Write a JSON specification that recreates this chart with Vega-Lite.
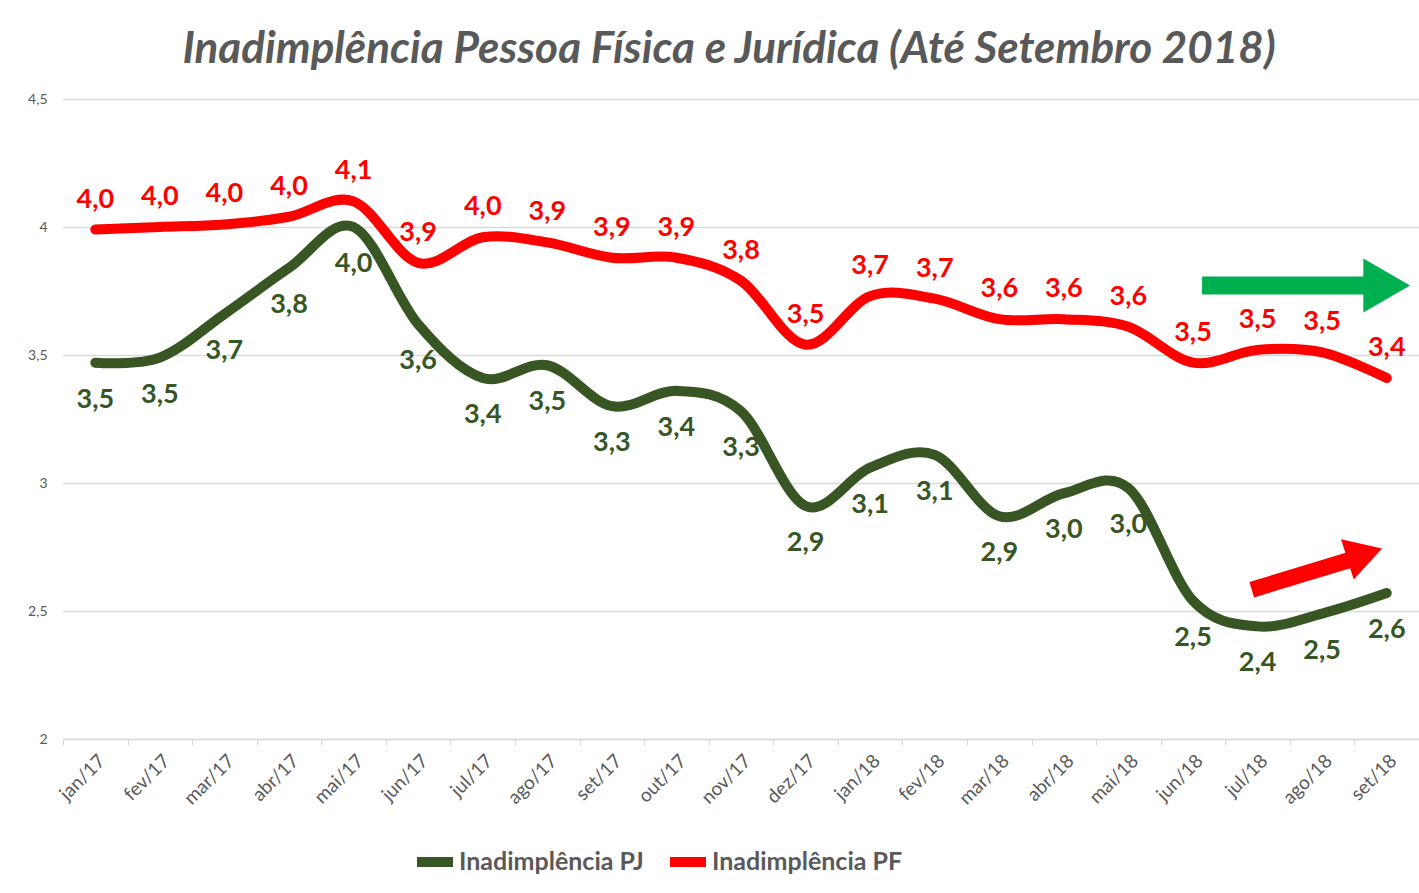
{
  "$schema": "https://vega.github.io/schema/vega-lite/v6.json",
  "autosize": {"type": "none"},
  "padding": {"left": 63, "top": 99, "right": 0, "bottom": 154},
  "width": 1356,
  "height": 640,
  "background": "white",
  "title": {
    "text": "Inadimplência Pessoa Física e Jurídica (Até Setembro 2018)",
    "font": "Lato",
    "fontSize": 44,
    "fontStyle": "italic",
    "fontWeight": "bold",
    "color": "#595959",
    "anchor": "middle",
    "dx": -12,
    "offset": 20
  },
  "datasets": {
    "series": [
      {"mes": "jan/17", "serie": "Inadimplência PJ", "valor": 3.47},
      {"mes": "fev/17", "serie": "Inadimplência PJ", "valor": 3.49},
      {"mes": "mar/17", "serie": "Inadimplência PJ", "valor": 3.66},
      {"mes": "abr/17", "serie": "Inadimplência PJ", "valor": 3.84},
      {"mes": "mai/17", "serie": "Inadimplência PJ", "valor": 4.0},
      {"mes": "jun/17", "serie": "Inadimplência PJ", "valor": 3.62},
      {"mes": "jul/17", "serie": "Inadimplência PJ", "valor": 3.41},
      {"mes": "ago/17", "serie": "Inadimplência PJ", "valor": 3.46},
      {"mes": "set/17", "serie": "Inadimplência PJ", "valor": 3.3},
      {"mes": "out/17", "serie": "Inadimplência PJ", "valor": 3.36},
      {"mes": "nov/17", "serie": "Inadimplência PJ", "valor": 3.28},
      {"mes": "dez/17", "serie": "Inadimplência PJ", "valor": 2.91},
      {"mes": "jan/18", "serie": "Inadimplência PJ", "valor": 3.06},
      {"mes": "fev/18", "serie": "Inadimplência PJ", "valor": 3.11},
      {"mes": "mar/18", "serie": "Inadimplência PJ", "valor": 2.87},
      {"mes": "abr/18", "serie": "Inadimplência PJ", "valor": 2.96},
      {"mes": "mai/18", "serie": "Inadimplência PJ", "valor": 2.98},
      {"mes": "jun/18", "serie": "Inadimplência PJ", "valor": 2.54},
      {"mes": "jul/18", "serie": "Inadimplência PJ", "valor": 2.44},
      {"mes": "ago/18", "serie": "Inadimplência PJ", "valor": 2.49},
      {"mes": "set/18", "serie": "Inadimplência PJ", "valor": 2.57},
      {"mes": "jan/17", "serie": "Inadimplência PF", "valor": 3.99},
      {"mes": "fev/17", "serie": "Inadimplência PF", "valor": 4.0},
      {"mes": "mar/17", "serie": "Inadimplência PF", "valor": 4.01},
      {"mes": "abr/17", "serie": "Inadimplência PF", "valor": 4.04},
      {"mes": "mai/17", "serie": "Inadimplência PF", "valor": 4.1},
      {"mes": "jun/17", "serie": "Inadimplência PF", "valor": 3.86},
      {"mes": "jul/17", "serie": "Inadimplência PF", "valor": 3.96},
      {"mes": "ago/17", "serie": "Inadimplência PF", "valor": 3.94},
      {"mes": "set/17", "serie": "Inadimplência PF", "valor": 3.88},
      {"mes": "out/17", "serie": "Inadimplência PF", "valor": 3.88},
      {"mes": "nov/17", "serie": "Inadimplência PF", "valor": 3.79},
      {"mes": "dez/17", "serie": "Inadimplência PF", "valor": 3.54},
      {"mes": "jan/18", "serie": "Inadimplência PF", "valor": 3.73},
      {"mes": "fev/18", "serie": "Inadimplência PF", "valor": 3.72},
      {"mes": "mar/18", "serie": "Inadimplência PF", "valor": 3.64},
      {"mes": "abr/18", "serie": "Inadimplência PF", "valor": 3.64},
      {"mes": "mai/18", "serie": "Inadimplência PF", "valor": 3.61},
      {"mes": "jun/18", "serie": "Inadimplência PF", "valor": 3.47},
      {"mes": "jul/18", "serie": "Inadimplência PF", "valor": 3.52},
      {"mes": "ago/18", "serie": "Inadimplência PF", "valor": 3.51},
      {"mes": "set/18", "serie": "Inadimplência PF", "valor": 3.41}
    ],
    "arrowShafts": [
      {"seta": "verde", "x": 17.64, "y": 3.771, "x2": 20.32, "y2": 3.771},
      {"seta": "vermelha", "x": 18.41, "y": 2.583, "x2": 20.09, "y2": 2.712}
    ],
    "arrowHeads": [
      {"seta": "verde", "x": 20.5, "y": 3.771},
      {"seta": "vermelha", "x": 20.16, "y": 2.723}
    ]
  },
  "layer": [
    {
      "data": {"name": "series"},
      "encoding": {
        "x": {
          "field": "mes",
          "type": "nominal",
          "sort": null,
          "scale": {"type": "band", "paddingInner": 0, "paddingOuter": 0},
          "axis": {
            "title": null,
            "labelAngle": -45,
            "labelFont": "Lato",
            "labelFontSize": 19,
            "labelColor": "#595959",
            "labelPadding": 6,
            "tickBand": "extent",
            "tickSize": 6,
            "tickColor": "#d9d9d9",
            "domainColor": "#d9d9d9",
            "domainWidth": 1.5,
            "grid": false
          }
        },
        "y": {
          "field": "valor",
          "type": "quantitative",
          "scale": {"domain": [2, 4.5], "nice": false, "zero": false},
          "axis": {
            "title": null,
            "values": [2, 2.5, 3, 3.5, 4, 4.5],
            "format": ".1~f",
            "labelFont": "Lato",
            "labelFontSize": 14,
            "labelColor": "#595959",
            "labelPadding": 16,
            "ticks": false,
            "domain": false,
            "grid": true,
            "gridColor": "#d9d9d9",
            "gridWidth": 1.5
          }
        },
        "color": {
          "field": "serie",
          "type": "nominal",
          "scale": {"domain": ["Inadimplência PJ", "Inadimplência PF"], "range": ["#375623", "#FF0000"]},
          "legend": {
            "title": null,
            "orient": "none",
            "direction": "horizontal",
            "legendX": 349,
            "legendY": 740,
            "symbolType": "stroke",
            "symbolStrokeWidth": 10,
            "symbolSize": 1296,
            "labelFont": "Lato",
            "labelFontSize": 25,
            "labelFontWeight": "bold",
            "labelColor": "#595959",
            "labelOffset": 1,
            "columnPadding": 6,
            "labelLimit": 400
          }
        }
      },
      "layer": [
        {
          "mark": {"type": "line", "interpolate": "cardinal", "strokeWidth": 10, "strokeCap": "round", "strokeJoin": "round"}
        },
        {
          "transform": [{"filter": "datum.serie === 'Inadimplência PF'"}],
          "mark": {"type": "text", "font": "Lato", "fontSize": 27, "fontWeight": "bold", "dy": -30, "baseline": "middle", "align": "center"},
          "encoding": {"text": {"field": "valor", "type": "quantitative", "format": ".1f"}}
        },
        {
          "transform": [{"filter": "datum.serie === 'Inadimplência PJ'"}],
          "mark": {"type": "text", "font": "Lato", "fontSize": 27, "fontWeight": "bold", "dy": 37, "baseline": "middle", "align": "center"},
          "encoding": {"text": {"field": "valor", "type": "quantitative", "format": ".1f"}}
        }
      ]
    },
    {
      "encoding": {
        "x": {"field": "x", "type": "quantitative", "scale": {"domain": [0, 21], "nice": false, "zero": false}, "axis": null},
        "y": {"field": "y", "type": "quantitative"}
      },
      "layer": [
        {
          "data": {"name": "arrowShafts"},
          "transform": [{"filter": "datum.seta === 'verde'"}],
          "mark": {"type": "rule", "color": "#00B050", "strokeWidth": 18, "strokeCap": "butt"},
          "encoding": {"x2": {"field": "x2"}, "y2": {"field": "y2"}}
        },
        {
          "data": {"name": "arrowShafts"},
          "transform": [{"filter": "datum.seta === 'vermelha'"}],
          "mark": {"type": "rule", "color": "#FF0000", "strokeWidth": 16, "strokeCap": "butt"},
          "encoding": {"x2": {"field": "x2"}, "y2": {"field": "y2"}}
        },
        {
          "data": {"name": "arrowHeads"},
          "transform": [{"filter": "datum.seta === 'verde'"}],
          "mark": {"type": "point", "shape": "triangle-right", "filled": true, "color": "#00B050", "opacity": 1, "size": 2916, "strokeWidth": 0}
        },
        {
          "data": {"name": "arrowHeads"},
          "transform": [{"filter": "datum.seta === 'vermelha'"}],
          "mark": {"type": "point", "shape": "triangle-right", "filled": true, "color": "#FF0000", "opacity": 1, "size": 1764, "angle": 342.5, "strokeWidth": 0}
        }
      ]
    }
  ],
  "resolve": {"scale": {"x": "independent"}},
  "config": {
    "locale": {"number": {"decimal": ",", "thousands": ".", "grouping": [3], "currency": ["R$", ""]}},
    "view": {"stroke": null}
  }
}
